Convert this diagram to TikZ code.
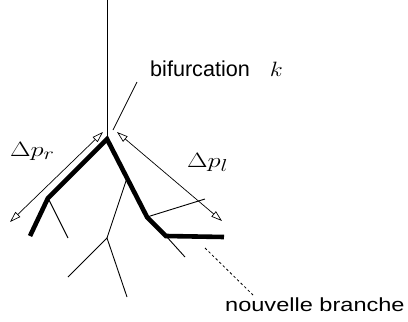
\documentclass[tikz,border=0pt]{standalone}
\usepackage{fontspec}
\setsansfont{Liberation Sans}
\usetikzlibrary{arrows.meta,calc}
\DeclareMathSizes{20.5}{20.5}{17}{14}
\begin{document}
\begin{tikzpicture}[x=1pt,y=-1pt,
  twig/.style={line width=0.9pt},
  mainpath/.style={line width=4.6pt},
  dimarrow/.style={line width=0.7pt,
    {Triangle[open,length=11pt,width=7pt]}-{Triangle[open,length=11pt,width=7pt]}},
  pointer/.style={line width=0.8pt},
  dashedpointer/.style={line width=0.8pt,dash pattern=on 2.5pt off 2.5pt},
  lbl/.style={inner sep=0pt,anchor=base west},
  mathlbl/.style={lbl,font=\fontsize{20.5}{24}\selectfont},
  textlbl/.style={lbl,font=\fontsize{21.6}{26}\selectfont\sffamily}]
\useasboundingbox (0,0) rectangle (408,322);
% tree points
\coordinate (top) at (107,0);
\coordinate (bif) at (107,139);
\coordinate (L1) at (48,198);
\coordinate (L2) at (30,236);
\coordinate (R1) at (147,217);
\coordinate (R2) at (166,236);
\coordinate (R3) at (224,237);
\coordinate (L1e) at (68,238);
\coordinate (M) at ($(bif)!0.5!(R1)$);
\coordinate (N) at (107,238);
\coordinate (Na) at (68,277);
\coordinate (Nb) at (127,297);
\coordinate (R1e) at (205,199);
\coordinate (R2e) at (185,257);
% trunk and branches
\draw[twig] (top) -- (bif);
\draw[twig] (L1) -- (L1e);
\draw[twig] (M) -- (N);
\draw[twig] (Na) -- (N) -- (Nb);
\draw[twig] (R1) -- (R1e);
\draw[twig] (R2) -- (R2e);
\draw[mainpath] (L2) -- (L1) -- (bif) -- (R1) -- (R2) -- (R3);
% dimension arrows
\coordinate (pr1) at (103,132);
\coordinate (pr2) at (10,222);
\coordinate (pl1) at (117,132);
\coordinate (pl2) at (222,221);
\draw[dimarrow] (pr1) -- (pr2);
\draw[dimarrow] (pl1) -- (pl2);
% labels
\node[mathlbl] (dpr) at (10,156) {\scalebox{1.28}[1]{$\Delta p_r$}};
\node[mathlbl] (dpl) at (187,167) {\scalebox{1.28}[1]{$\Delta p_l$}};
\node[textlbl] (bk) at (150,76) {bifurcation\hspace{20pt}\scalebox{1.15}[1]{$k$}};
\node[lbl,font=\fontsize{19}{23}\selectfont\sffamily] (nb) at (225,311) {\scalebox{1.24}[1]{nouvelle branche}};
% pointers
\coordinate (bp1) at (113,130);
\coordinate (bp2) at (137,82);
\draw[pointer] (bp1) -- (bp2);
\coordinate (np1) at (205,248);
\coordinate (np2) at (253,295);
\draw[dashedpointer] (np1) -- (np2);
\end{tikzpicture}
\end{document}
